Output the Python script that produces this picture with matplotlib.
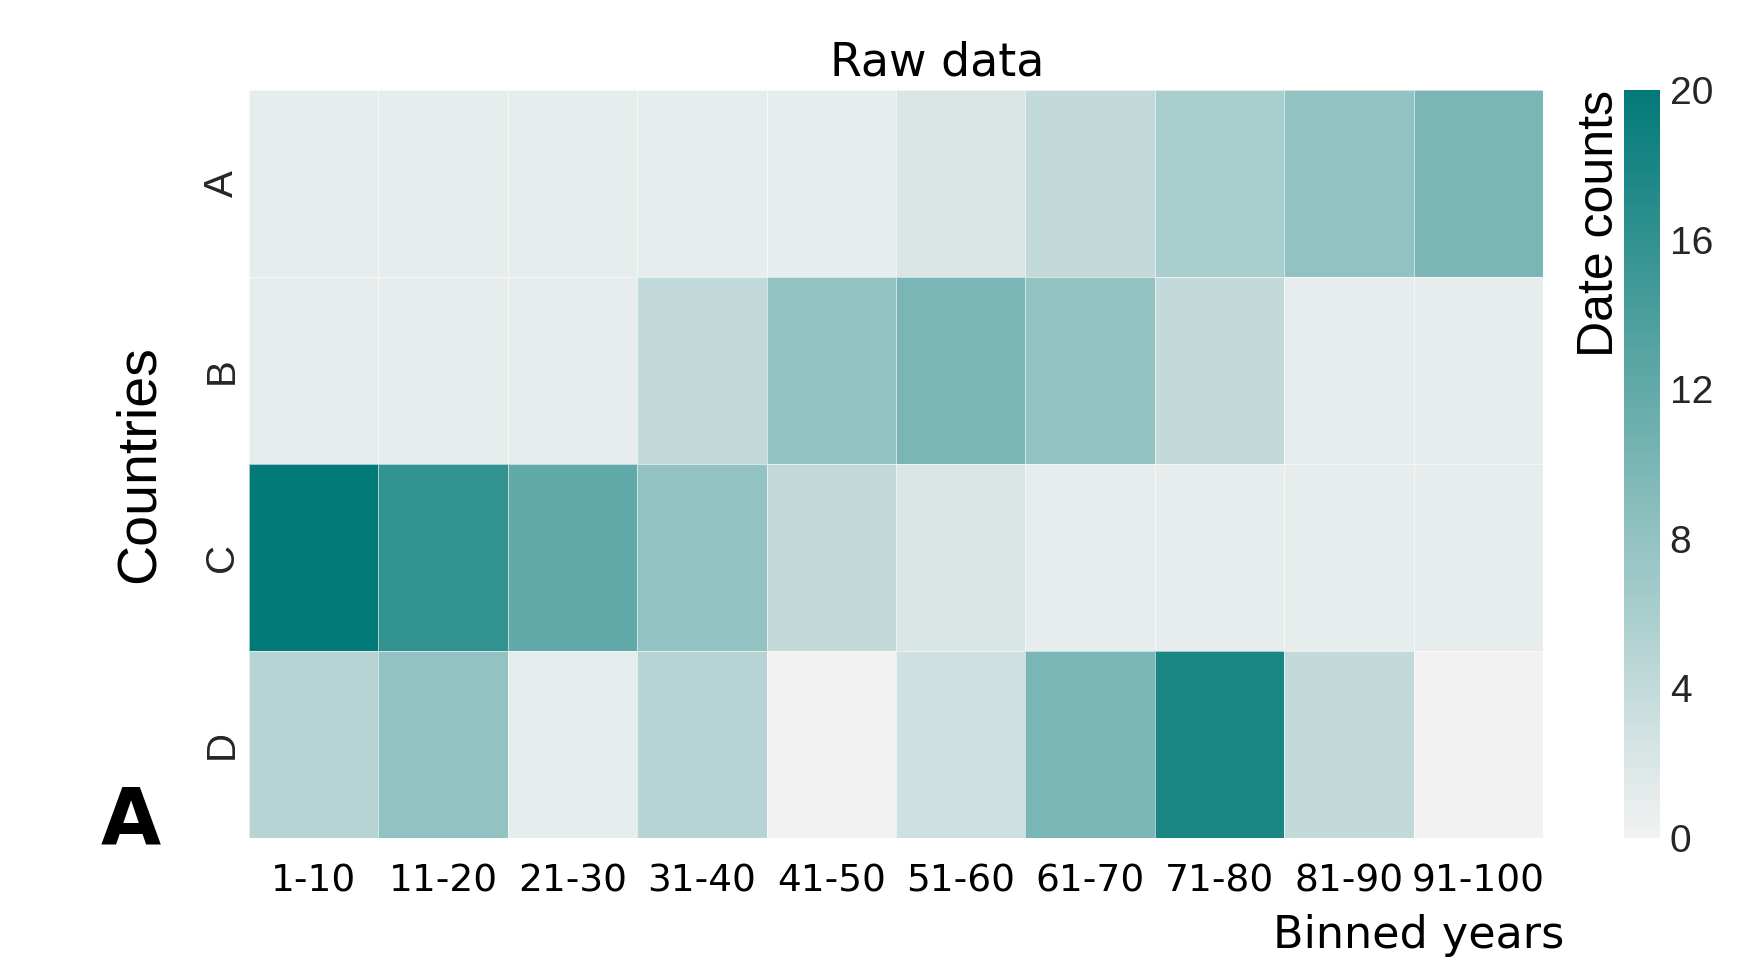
import numpy as np
import matplotlib
matplotlib.use("Agg")
import matplotlib.pyplot as plt
from matplotlib.colors import LinearSegmentedColormap

countries = ["A", "B", "C", "D"]
bins = ["1-10", "11-20", "21-30", "31-40", "41-50", "51-60", "61-70", "71-80", "81-90", "91-100"]
row_A = [1, 1, 1, 1, 1, 2, 4, 6, 8, 10]
row_B = [1, 1, 1, 4, 8, 10, 8, 4, 1, 1]
row_C = [20, 16, 12, 8, 4, 2, 1, 1, 1, 1]
row_D = [5, 8, 1, 5, 0, 3, 10, 18, 4, 0]
cbar_ticks = [0, 4, 8, 12, 16, 20]

data = np.array([row_A, row_B, row_C, row_D], dtype=float)

W, H = 1763, 959
fig = plt.figure(figsize=(W / 100, H / 100), dpi=100)

cmap = LinearSegmentedColormap.from_list("tealmap", ["#f2f2f2", "#027a78"])

ax = fig.add_axes([249 / W, (H - 838) / H, 1294 / W, 748 / H])
cax = fig.add_axes([1624 / W, (H - 838) / H, 36 / W, 748 / H])

mesh = ax.pcolormesh(data, cmap=cmap, vmin=0, vmax=20,
                     edgecolors=(1, 1, 1, 0.6), linewidth=0.6)
ax.set_xlim(0, data.shape[1])
ax.set_ylim(data.shape[0], 0)
for s in ax.spines.values():
    s.set_visible(False)

ax.set_xticks(np.arange(len(bins)) + 0.5)
ax.set_xticklabels(bins, fontsize=27, family="DejaVu Sans", color="black")
ax.set_yticks(np.arange(len(countries)) + 0.5)
ax.set_yticklabels(countries, fontsize=29, family="Liberation Sans",
                   color="#262626", rotation=90, va="center")
ax.tick_params(axis="both", length=0)
ax.tick_params(axis="x", pad=18)
ax.tick_params(axis="y", pad=6)

ax.set_xlabel("Binned years", fontsize=32, family="DejaVu Sans", color="black")
ax.xaxis.set_label_coords((1564 - 249) / 1294, -0.131)
ax.xaxis.label.set_ha("right")
ax.xaxis.label.set_va("center")

ax.set_ylabel("Countries", fontsize=40, family="Liberation Sans", color="black")
ax.yaxis.label.set_va("center")
ax.yaxis.set_label_coords((140 - 249) / 1294, 0.5)

cb = fig.colorbar(mesh, cax=cax, ticks=cbar_ticks)
cb.outline.set_visible(False)
cax.tick_params(length=0, pad=7, labelsize=28, labelcolor="#262626")
for t in cax.get_yticklabels():
    t.set_family("Liberation Sans")
cax.yaxis.set_label_position("left")
cax.set_ylabel("Date counts", fontsize=36, family="Liberation Sans",
               color="black", loc="top")
cax.yaxis.label.set_va("center")
cax.yaxis.set_label_coords((1600 - 1624) / 36, 1.0)

fig.text(937 / W, (H - 75) / H, "Raw data", fontsize=33, family="DejaVu Sans",
         ha="center", va="baseline", color="black")
fig.text(131 / W, (H - 844) / H, "A", fontsize=56, family="DejaVu Sans",
         weight="bold", ha="center", va="baseline", color="black")

fig.savefig("out.png", dpi=100, facecolor="white")
